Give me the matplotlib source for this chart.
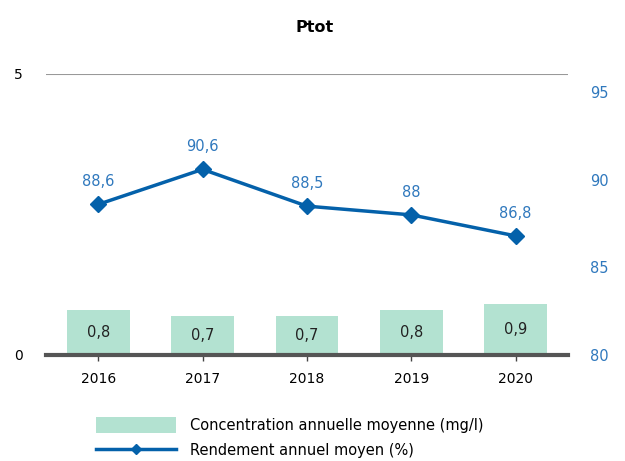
import matplotlib.pyplot as plt
import numpy as np
from matplotlib.lines import Line2D
from matplotlib.patches import Patch

# %% data
years = ["2016", "2017", "2018", "2019", "2020"]
concentration = [0.8, 0.7, 0.7, 0.8, 0.9]
rendement = [88.6, 90.6, 88.5, 88.0, 86.8]
conc_labels = ["0,8", "0,7", "0,7", "0,8", "0,9"]
rend_labels = ["88,6", "90,6", "88,5", "88", "86,8"]

bar_color = "#b3e2d1"
line_color = "#0461aa"
label_blue = "#2f78bd"

plt.rcParams["font.family"] = "DejaVu Sans"

fig = plt.figure(figsize=(6.25, 4.61), dpi=100)
ax = fig.add_axes([0.0736, 0.230, 0.835, 0.610])
x = np.arange(len(years))

# bars on the left axis
ax.bar(x, concentration, width=0.6, color=bar_color, zorder=2)
for xi, v, lab in zip(x, concentration, conc_labels):
    ax.text(xi, v / 2, lab, ha="center", va="center", fontsize=10.5, color="#222222", zorder=3)
ax.set_ylim(0, 5)
ax.set_xlim(-0.5, len(years) - 0.5)
ax.set_yticks([0, 5])
ax.set_yticklabels(["0", "5"], fontsize=10)
ax.tick_params(axis="y", length=0, pad=17)
ax.set_xticks(x)
ax.set_xticklabels(years, fontsize=10)
ax.tick_params(axis="x", length=4, width=1, color="#444444", direction="out", pad=8)
ax.axhline(5, color="#999999", linewidth=1.5, zorder=1)
for s in ["top", "left", "right"]:
    ax.spines[s].set_visible(False)
ax.spines["bottom"].set_color("#555555")
ax.spines["bottom"].set_linewidth(3)
ax.spines["bottom"].set_zorder(4)

# line on the right axis
ax2 = ax.twinx()
ax2.plot(x, rendement, color=line_color, linewidth=2.5, marker="D", markersize=8, zorder=3)
for xi, v, lab in zip(x, rendement, rend_labels):
    ax2.annotate(lab, (xi, v), xytext=(0, 11), textcoords="offset points",
                 ha="center", va="bottom", fontsize=10.5, color=label_blue)
ax2.set_ylim(80, 96.06)
ax2.set_yticks([80, 85, 90, 95])
ax2.tick_params(axis="y", length=0, pad=16, labelcolor=label_blue, labelsize=10.5)
for s in ["top", "left", "right", "bottom"]:
    ax2.spines[s].set_visible(False)

fig.text(0.504, 0.94, "Ptot", ha="center", va="center", fontsize=11.5, fontweight="bold")

handles = [
    Patch(facecolor=bar_color, edgecolor="none"),
    Line2D([0], [0], color=line_color, linewidth=2.5, marker="D", markersize=5),
]
fig.legend(handles, ["Concentration annuelle moyenne (mg/l)", "Rendement annuel moyen (%)"],
           loc="lower left", bbox_to_anchor=(0.133, -0.022), frameon=False,
           fontsize=10.5, handlelength=5.5, handleheight=1.3, labelspacing=0.6,
           handletextpad=0.9)

fig.savefig("out.png", dpi=100)
